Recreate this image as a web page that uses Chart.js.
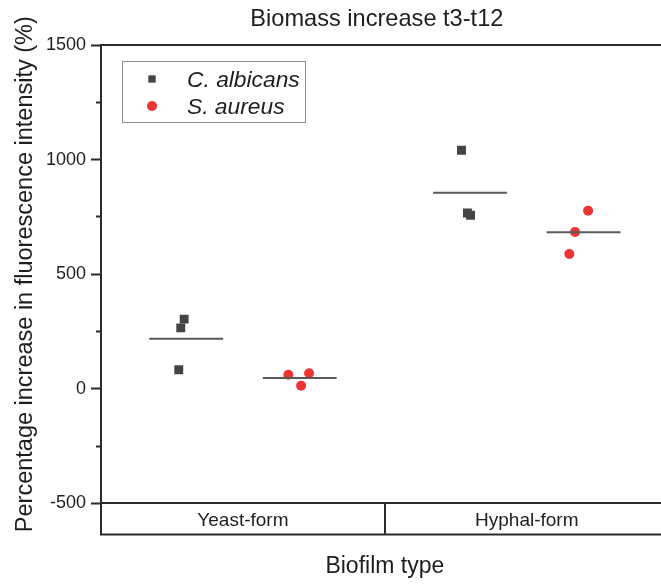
<!DOCTYPE html>
<html>
<head>
<meta charset="utf-8">
<script src="https://cdn.jsdelivr.net/npm/chart.js@4.4.1/dist/chart.umd.min.js"></script>
<style>
html, body { margin: 0; padding: 0; background: #fff; overflow: hidden; }
canvas { display: block; }
</style>
</head>
<body>
<canvas id="c" width="675" height="584"></canvas>
<script>
// ---- data ----
const chartTitle = 'Biomass increase t3-t12';
const xAxisTitle = 'Biofilm type';
const yAxisTitle = 'Percentage increase in fluorescence intensity (%)';
const categories = ['Yeast-form', 'Hyphal-form'];
const seriesNames = ['C. albicans', 'S. aureus'];
const albicansValues = [[304, 266, 83], [1041, 767, 757]];
const aureusValues = [[61, 68, 13], [777, 684, 588]];
const albicansMeans = [218, 855];
const aureusMeans = [47, 683];
const yTickValues = [-500, 0, 500, 1000, 1500];
const yMinorStep = 250;

// ---- layout / style (not data) ----
const seriesOffset = [0.3, 0.7];
const albicansJitter = [[-0.007, -0.019, -0.026], [-0.03, -0.009, 0.002]];
const aureusJitter = [[-0.04, 0.033, 0.005], [0.016, -0.03, -0.05]];
const meanHalfWidth = 0.13;
const FONT = "'Liberation Sans', Arial, Helvetica, sans-serif";
const axisColor = '#2b2b2b';
const textColor = '#1e1e1e';
const albicansColor = '#444444';
const aureusColor = '#ee3333';
const meanColor = '#5a5a5a';

function groupPoints(values, jitter, s) {
  const pts = [];
  values.forEach((arr, ci) => arr.forEach((v, k) => {
    pts.push({ x: ci + seriesOffset[s] + jitter[ci][k], y: v });
  }));
  return pts;
}

const meanSets = [];
[albicansMeans, aureusMeans].forEach((means, s) => {
  means.forEach((m, ci) => {
    meanSets.push({
      type: 'scatter',
      label: 'mean',
      data: [
        { x: ci + seriesOffset[s] - meanHalfWidth, y: m },
        { x: ci + seriesOffset[s] + meanHalfWidth, y: m }
      ],
      showLine: true,
      borderColor: meanColor,
      borderWidth: 2,
      pointRadius: 0,
      pointHoverRadius: 0,
      fill: false
    });
  });
});

const datasets = meanSets.concat([
  {
    type: 'scatter',
    label: seriesNames[0],
    data: groupPoints(albicansValues, albicansJitter, 0),
    pointStyle: 'rect',
    pointRadius: 6.3,
    backgroundColor: albicansColor,
    borderColor: albicansColor,
    borderWidth: 0
  },
  {
    type: 'scatter',
    label: seriesNames[1],
    data: groupPoints(aureusValues, aureusJitter, 1),
    pointStyle: 'circle',
    pointRadius: 5,
    backgroundColor: aureusColor,
    borderColor: aureusColor,
    borderWidth: 0
  }
]);

const titlePlugin = {
  id: 'titlePlugin',
  afterDraw(chart) {
    const ctx = chart.ctx, a = chart.chartArea;
    ctx.save();
    ctx.fillStyle = textColor;
    ctx.font = '23.6px ' + FONT;
    ctx.textAlign = 'center';
    ctx.textBaseline = 'alphabetic';
    ctx.fillText(chartTitle, (a.left + a.right) / 2 - 8, 26);
    ctx.restore();
  }
};

const legendPlugin = {
  id: 'boxLegend',
  afterDraw(chart) {
    const ctx = chart.ctx, a = chart.chartArea;
    const left = a.left + 21, top = a.top + 16, w = 183, h = 61;
    ctx.save();
    ctx.fillStyle = '#ffffff';
    ctx.fillRect(left, top, w, h);
    ctx.strokeStyle = '#8c8c8c';
    ctx.lineWidth = 1;
    ctx.strokeRect(left + 0.5, top + 0.5, w, h);
    const mx = left + 30, rows = [top + 18, top + 45];
    const ds1 = datasets[datasets.length - 2], ds2 = datasets[datasets.length - 1];
    ctx.fillStyle = ds1.backgroundColor;
    const half = Math.SQRT1_2 * 5.2;
    ctx.fillRect(mx - half, rows[0] - half, 2 * half, 2 * half);
    ctx.fillStyle = ds2.backgroundColor;
    ctx.beginPath();
    ctx.arc(mx, rows[1], 5, 0, Math.PI * 2);
    ctx.fill();
    ctx.fillStyle = textColor;
    ctx.font = 'italic 22.8px ' + FONT;
    ctx.textAlign = 'left';
    ctx.textBaseline = 'alphabetic';
    ctx.fillText(ds1.label, left + 65, rows[0] + 8);
    ctx.fillText(ds2.label, left + 65, rows[1] + 8);
    ctx.restore();
  }
};

const categoryBoxPlugin = {
  id: 'categoryBox',
  afterDraw(chart) {
    const ctx = chart.ctx, xs = chart.scales.x;
    const top = chart.chartArea.bottom, bot = top + 31;
    ctx.save();
    ctx.strokeStyle = axisColor;
    ctx.lineWidth = 2;
    ctx.beginPath();
    ctx.moveTo(xs.getPixelForValue(0) - 1, bot);
    ctx.lineTo(xs.getPixelForValue(categories.length) + 1, bot);
    for (let i = 0; i <= categories.length; i++) {
      const px = Math.round(xs.getPixelForValue(i));
      ctx.moveTo(px, top);
      ctx.lineTo(px, bot);
    }
    ctx.stroke();
    ctx.fillStyle = textColor;
    ctx.font = '19px ' + FONT;
    ctx.textAlign = 'center';
    ctx.textBaseline = 'alphabetic';
    categories.forEach((c, i) => {
      ctx.fillText(c, xs.getPixelForValue(i + 0.5), top + 23);
    });
    ctx.restore();
  }
};

new Chart(document.getElementById('c'), {
  type: 'scatter',
  data: { datasets },
  options: {
    responsive: false,
    animation: false,
    devicePixelRatio: 1,
    layout: { padding: { top: 45, left: 0, right: 0, bottom: 0 } },
    plugins: {
      legend: { display: false },
      title: { display: false },
      tooltip: { enabled: false }
    },
    scales: {
      x: {
        type: 'linear',
        position: 'bottom',
        min: 0,
        max: categories.length,
        ticks: { display: false },
        grid: { display: false, drawTicks: false },
        border: { display: true, color: axisColor, width: 2 },
        title: {
          display: true,
          text: xAxisTitle,
          color: textColor,
          font: { size: 23, family: FONT },
          padding: { top: 49, bottom: 4 }
        }
      },
      xTop: {
        type: 'linear',
        position: 'top',
        min: 0,
        max: categories.length,
        ticks: { display: false },
        grid: { display: false, drawTicks: false },
        border: { display: true, color: axisColor, width: 2 }
      },
      y: {
        type: 'linear',
        position: 'left',
        min: yTickValues[0],
        max: yTickValues[yTickValues.length - 1],
        ticks: {
          stepSize: yMinorStep,
          padding: 5,
          color: textColor,
          font: { size: 18, family: FONT },
          callback: (v) => yTickValues.includes(v) ? String(v) : ''
        },
        grid: {
          display: true,
          drawOnChartArea: false,
          drawTicks: true,
          tickLength: 10,
          tickWidth: 2,
          tickColor: (c) => {
            if (!c.tick || yTickValues.includes(c.tick.value)) return axisColor;
            const s = c.scale;
            const g = c.chart.ctx.createLinearGradient(s.right - 10, 0, s.right, 0);
            g.addColorStop(0, 'rgba(0,0,0,0)');
            g.addColorStop(0.5, 'rgba(0,0,0,0)');
            g.addColorStop(0.5, axisColor);
            g.addColorStop(1, axisColor);
            return g;
          }
        },
        border: { display: true, color: axisColor, width: 2 },
        title: {
          display: true,
          text: yAxisTitle,
          color: textColor,
          font: { size: 23.5, family: FONT },
          padding: { top: 11, bottom: 0 }
        },
        afterFit: (s) => { s.width = 101; }
      }
    }
  },
  plugins: [titlePlugin, legendPlugin, categoryBoxPlugin]
});
</script>
</body>
</html>
